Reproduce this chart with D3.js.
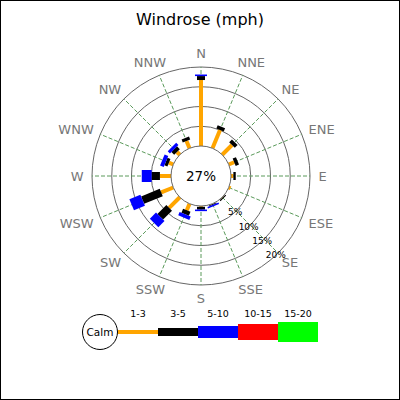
<!DOCTYPE html>
<html><head><meta charset="utf-8">
<script src="https://cdn.jsdelivr.net/npm/d3@7"></script>
<style>body{margin:0;background:#fff}svg{display:block}text{font-family:"DejaVu Sans",sans-serif}</style>
</head><body>
<svg id="c" width="400" height="400"></svg>
<script>
const title = "Windrose (mph)";
const directions = ["N","NNE","NE","ENE","E","ESE","SE","SSE","S","SSW","SW","WSW","W","WNW","NW","NNW"];
const range1to3  = [16.7,5.0,3.5,1.5,0.6,0.5,0.1,0.1,0.2,1.8,3.8,3.3,2.8,1.2,1.0,2.0];
const range3to5  = [1.0,0.9,1.0,0.9,0.6,0,0.3,0.2,0.7,1.1,3.2,5.1,2.1,0.8,1.0,0.8];
const range5to10 = [0.4,0,0,0,0,0,0,0.4,0.4,0.9,2.2,3.0,2.5,1.0,0.8,0];
const range10to15 = [0,0,0,0,0,0,0,0,0,0,0,0,0,0,0,0];
const range15to20 = [0,0,0,0,0,0,0,0,0,0,0,0,0,0,0,0];
const rangeLabels = ["1-3","3-5","5-10","10-15","15-20"];
const ringTicks = [5,10,15,20];
const calmPct = 27;

const series = [range1to3, range3to5, range5to10, range10to15, range15to20];
const colors = ["#ffa500","#000000","#0000ff","#ff0000","#00ff00"];
const widths = [4,8,12,16,20];

const svg = d3.select("#c");
const cx = 201, cy = 176, calmR = 30, outerR = 109;
const r = d3.scaleLinear().domain([0,20]).range([calmR, outerR]);
const ang = d3.scaleBand().domain(directions).range([0, 2*Math.PI]).paddingInner(0).align(0);
const theta = d => ang(d);
const pt = (a, rr) => [cx + rr*Math.sin(a), cy - rr*Math.cos(a)];

svg.append("rect").attr("x",0.5).attr("y",0.5).attr("width",399).attr("height",399)
  .attr("fill","#fff").attr("stroke","#000");

svg.append("text").attr("x",200).attr("y",25).attr("text-anchor","middle")
  .attr("font-size",16).attr("fill","#000").text(title);

const g = svg.append("g");
g.selectAll("circle.ring").data(ringTicks).join("circle").attr("class","ring")
  .attr("cx",cx).attr("cy",cy).attr("r",d=>r(d)).attr("fill","none").attr("stroke","#666").attr("stroke-width",1);
g.selectAll("line.spoke").data(directions).join("line").attr("class","spoke")
  .attr("x1",d=>pt(theta(d),calmR)[0]).attr("y1",d=>pt(theta(d),calmR)[1])
  .attr("x2",d=>pt(theta(d),outerR)[0]).attr("y2",d=>pt(theta(d),outerR)[1])
  .attr("stroke","#5a9a5a").attr("stroke-width",1).attr("stroke-dasharray","4,2");

const segs = [];
directions.forEach((d,i)=>{
  let acc = 0;
  series.forEach((s,k)=>{
    const v = s[i];
    if (v > 0) segs.push({d, k, a0: acc, a1: acc+v});
    acc += v;
  });
});
g.selectAll("line.leg").data(segs).join("line").attr("class","leg")
  .attr("x1",s=>pt(theta(s.d),r(s.a0))[0]).attr("y1",s=>pt(theta(s.d),r(s.a0))[1])
  .attr("x2",s=>pt(theta(s.d),r(s.a1))[0]).attr("y2",s=>pt(theta(s.d),r(s.a1))[1])
  .attr("stroke",s=>colors[s.k]).attr("stroke-width",s=>widths[s.k]).attr("stroke-linecap","butt");

g.append("circle").attr("cx",cx).attr("cy",cy).attr("r",calmR).attr("fill","#fff").attr("stroke","#666");
g.append("text").attr("x",cx).attr("y",cy).attr("dy","0.36em").attr("text-anchor","middle")
  .attr("font-size",13.5).attr("fill","#000").text(calmPct+"%");

const la = Math.PI*0.75 + 0.03;
g.selectAll("text.rl").data(ringTicks).join("text").attr("class","rl")
  .attr("x",d=>pt(la,r(d))[0]).attr("y",d=>pt(la,r(d))[1]).attr("dy","0.34em")
  .attr("text-anchor","middle").attr("font-size",9).attr("fill","#000").text(d=>d+"%");

const dl = g.selectAll("text.dl").data(directions).join("text").attr("class","dl")
  .attr("text-anchor","middle").attr("dy","0.36em").attr("font-size",13).attr("fill","#777").text(d=>d);
dl.each(function(d){
  const w = this.getComputedTextLength(), h = 13.5;
  const a = theta(d);
  d3.select(this)
    .attr("x", cx + (117.5 + w/2)*Math.sin(a))
    .attr("y", cy - (116 + h/2)*Math.cos(a));
});

const lg = svg.append("g");
const ly = 332, lx0 = 118, lw = 40;
lg.append("circle").attr("cx",100).attr("cy",ly).attr("r",17.5).attr("fill","#fff").attr("stroke","#000");
lg.append("text").attr("x",100).attr("y",ly).attr("dy","0.36em").attr("text-anchor","middle")
  .attr("font-size",10.5).text("Calm");
lg.selectAll("rect.lb").data(rangeLabels).join("rect").attr("class","lb")
  .attr("x",(d,i)=>lx0+i*lw).attr("width",lw)
  .attr("y",(d,i)=>ly-widths[i]/2).attr("height",(d,i)=>widths[i]).attr("fill",(d,i)=>colors[i]);
lg.selectAll("text.lt").data(rangeLabels).join("text").attr("class","lt")
  .attr("x",(d,i)=>lx0+i*lw+lw/2).attr("y",314).attr("dy","0.36em").attr("text-anchor","middle")
  .attr("font-size",9.5).attr("fill","#000").text(d=>d);
</script>
</body></html>
